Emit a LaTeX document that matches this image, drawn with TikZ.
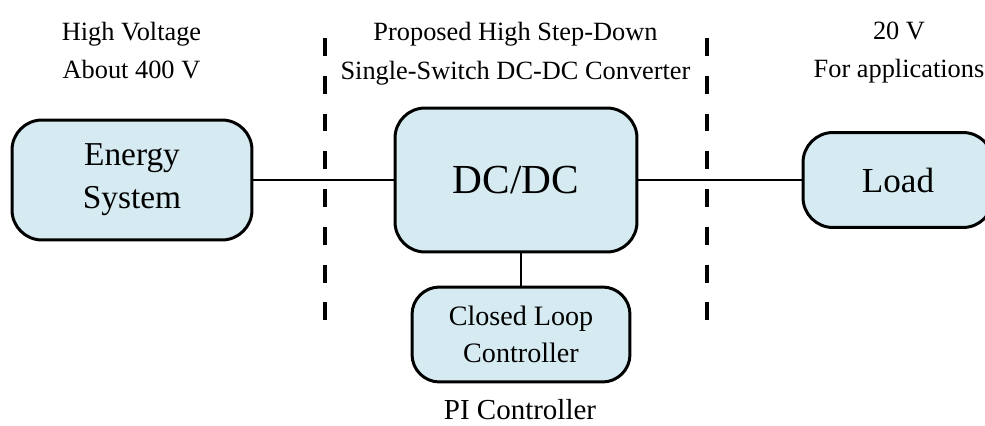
\documentclass[tikz,border=0pt]{standalone}
\usepackage{fontspec}
\setmainfont{Liberation Serif}
\usepackage{tikz}
\usepackage{xcolor}
\definecolor{boxblue}{RGB}{214,235,241}

\begin{document}
\begin{tikzpicture}[x=0.02cm, y=-0.02cm,
    blk/.style={draw=black, line width=1.7pt, fill=boxblue, rounded corners=0.6cm,
                align=center, inner sep=0pt},
    lbl/.style={align=center, font=\fontsize{15}{22.1}\selectfont},
    wire/.style={line width=1.3pt},
    divider/.style={line width=1.9pt, dash pattern=on 10.2pt off 11.3pt}]
    \useasboundingbox (0,0) rectangle (985,426);
    \clip (0,0) rectangle (985,426);

    % blocks
    \node[blk, minimum width=4.8cm, minimum height=2.4cm,
          font=\fontsize{19}{24.4}\selectfont] (energy) at (132,180) {Energy\\System};
    \node[blk, minimum width=4.84cm, minimum height=2.88cm,
          font=\fontsize{23.5}{28}\selectfont] (dcdc) at (516,180) {DC/DC};
    \node[blk, minimum width=3.8cm, minimum height=1.9cm,
          font=\fontsize{20}{24}\selectfont] (load) at (898,180) {Load};
    \node[blk, minimum width=4.36cm, minimum height=1.9cm, rounded corners=0.55cm,
          font=\fontsize{16}{20.8}\selectfont] (ctrl) at (521,334.5) {Closed Loop\\Controller};

    \draw[wire] (energy.east) -- (dcdc.west);
    \draw[wire] (dcdc.east) -- (load.west);
    \draw[wire] (ctrl.north) -- (ctrl.north |- dcdc.south);

    % dashed borders of the converter
    \foreach \x/\n in {325/l, 707/r} {
        \coordinate (top\n) at (\x,38);
        \coordinate (bot\n) at (\x,322);
        \draw[divider] (top\n) -- (bot\n);
    }

    % labels
    \node[lbl] (hv) at (131.5,50.5) {High Voltage\\About 400 V};
    \node[lbl] (conv) at (515.5,53.4) {Proposed High Step-Down\\Single-Switch DC-DC Converter};
    \node[lbl] (out) at (899,52.5) {20 V\\For applications};
    \node[font=\fontsize{16.5}{20}\selectfont, inner sep=0pt] (pi) at (520,410) {PI Controller};
\end{tikzpicture}
\end{document}
